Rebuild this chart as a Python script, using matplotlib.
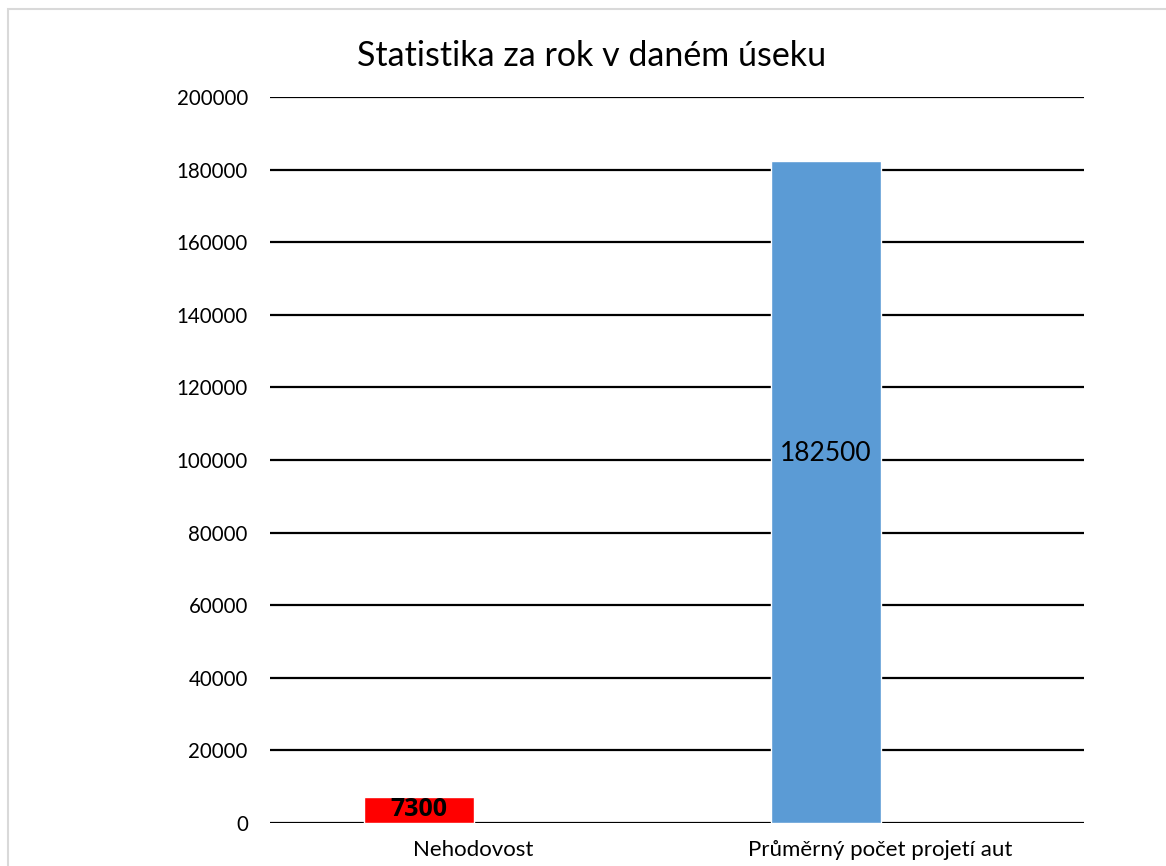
import matplotlib.pyplot as plt
from matplotlib.patches import Rectangle

categories = ['Nehodovost', 'Průměrný počet projetí aut']
values = [7300, 182500]
bar_colors = ['#FF0000', '#5B9BD5']
yticks = list(range(0, 200001, 20000))

plt.rcParams['font.family'] = ['Lato', 'DejaVu Sans']

W, H = 1166, 866
fig = plt.figure(figsize=(W / 100, H / 100), dpi=100)

# light grey chart frame (runs off the right and bottom edges)
fig.patches.append(Rectangle((7.5 / W, -0.1), 1.0, 1.1 - 9.5 / H, transform=fig.transFigure,
                             fill=False, edgecolor='#d9d9d9', linewidth=1.5))

ax = fig.add_axes([270 / W, 1 - 823 / H, (1084 - 270) / W, (823 - 97) / H])

x = range(len(categories))
bw = 0.268
bars = ax.bar([i - bw / 2 for i in x], values, width=bw, color=bar_colors,
              edgecolor='white', linewidth=1, zorder=3)

ax.set_xlim(-0.5, 1.5)
ax.set_ylim(0, 200000)
ax.set_yticks(yticks)
ax.set_yticklabels([str(t) for t in yticks], fontsize=14.8)
ax.set_xticks(list(x))
ax.set_xticklabels(categories, fontsize=16)
ax.tick_params(axis='y', length=0, pad=16)
ax.tick_params(axis='x', length=0, pad=12)
for s in ax.spines.values():
    s.set_visible(False)
ax.grid(axis='y', color='black', linewidth=1.6, zorder=1)
ax.set_axisbelow(True)

# data labels
ax.text(bars[0].get_x() + bw / 2, values[0] / 2, str(values[0]), ha='center', va='center',
        fontsize=18, fontweight='bold', family=['Open Sans', 'DejaVu Sans'], zorder=4)
ax.text(bars[1].get_x() + bw / 2, values[1] * 0.558, str(values[1]), ha='center', va='center',
        fontsize=19, zorder=4)

fig.text(592 / W, 1 - 56 / H, 'Statistika za rok v daném úseku', ha='center', va='center',
         fontsize=24.5)

fig.savefig('out.png', dpi=100)
